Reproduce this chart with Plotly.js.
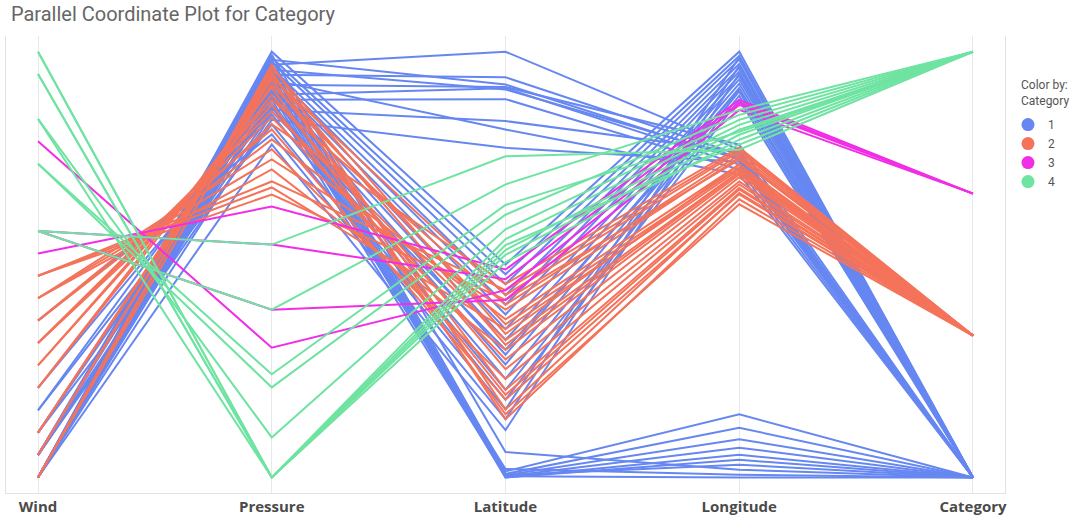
<!DOCTYPE html>
<html>
<head>
<meta charset="utf-8">
<script src="https://cdn.plot.ly/plotly-3.0.1.min.js"></script>
<style>html,body{margin:0;padding:0;background:#fff;}#chart{width:1075px;height:516px;}</style>
</head>
<body>
<div id="chart"></div>
<script>
// Dimensions (axes) of the parallel coordinate plot
const dimensions = ['Wind', 'Pressure', 'Latitude', 'Longitude', 'Category'];
const dimRanges = [[35, 130], [920, 1005], [10, 45], [-100, -40], [1, 4]];

// One entry per storm record
const wind = [
  // category 1
  35,35,40,35,45,40,35,50,35,40,
  35,35,35,40,35,40,45,35,50,35,40,55,35,45,70,35,40,
  35,35,35,40,35,40,35,45,35,40,
  // category 2
  80,80,80,75,75,75,70,70,65,65,65,60,60,55,55,45,45,40,40,35,35,35,
  // category 3
  110,85,90,90,
  // category 4
  130,130,125,125,115,115,105,105,90,90
];
const pressure = [
  1002.4,1000.4,1003.4,998.4,996.4,1001.4,995.4,993.4,999.4,991.4,
  1005.0,1003.8,1003.0,1001.8,1001.0,999.8,999.0,997.8,997.0,995.8,994.6,993.9,992.5,990.5,988.5,986.5,993.1,
  1004.4,1003.4,1002.4,1001.4,1000.4,999.4,998.4,997.4,996.4,995.4,
  976.5,977.9,979.1,981.5,983.5,985.5,987.5,989.5,990.5,991.9,993.1,994.4,995.4,996.4,997.8,998.4,999.4,1000.4,1001.0,1001.8,1002.4,999.8,
  945.9,974.1,953.5,966.5,
  920.0,920.0,920.0,920.0,920.0,928.0,938.0,940.6,953.5,966.5
];
const latitude = [
  45.0,42.9,42.3,42.1,42.0,41.9,41.1,39.3,38.6,37.1,
  27.5,26.7,25.9,25.0,24.2,23.4,22.2,21.3,20.1,19.3,18.1,17.2,16.4,15.6,14.8,13.9,20.5,
  12.1,10.5,10.3,10.2,10.1,10.0,10.0,10.2,10.7,10.1,
  24.6,22.2,25.4,20.5,23.8,18.1,23.0,16.4,25.9,19.7,21.3,16.8,24.2,18.9,15.2,22.6,17.2,20.9,14.8,21.8,15.6,25.0,
  25.4,27.1,24.6,26.3,
  27.7,28.3,28.7,29.1,29.6,30.4,31.6,32.4,34.1,36.4
];
const longitude = [
  -53.8,-54.5,-55.2,-53.1,-55.9,-54.9,-56.6,-54.1,-57.3,-55.5,
  -40.0,-40.6,-41.1,-41.7,-42.3,-42.8,-43.4,-43.9,-44.5,-45.1,-45.6,-46.2,-46.8,-40.8,-42.0,-43.1,-45.4,
  -98.9,-91.1,-93.0,-94.6,-95.8,-96.8,-97.5,-98.2,-99.6,-100.0,
  -55.2,-56.6,-53.8,-57.3,-54.9,-58.7,-55.9,-60.1,-53.5,-57.7,-56.9,-59.4,-54.5,-58.3,-61.5,-56.3,-59.2,-57.0,-60.8,-55.9,-59.9,-54.1,
  -47.5,-46.8,-48.2,-47.2,
  -52.4,-51.7,-51.0,-53.1,-50.3,-49.6,-48.9,-51.3,-48.2,-53.8
];
const category = [
  1,1,1,1,1,1,1,1,1,1,
  1,1,1,1,1,1,1,1,1,1,1,1,1,1,1,1,1,
  1,1,1,1,1,1,1,1,1,1,
  2,2,2,2,2,2,2,2,2,2,2,2,2,2,2,2,2,2,2,2,2,2,
  3,3,3,3,
  4,4,4,4,4,4,4,4,4,4
];

const categoryLevels = [1, 2, 3, 4];
const categoryColors = {1: '#6687f2', 2: '#f4735a', 3: '#f22de6', 4: '#6fe3a1'};
const drawOrder = [1, 2, 3, 4];

const columns = [wind, pressure, latitude, longitude, category];
function scaled(d, v) {
  const r = dimRanges[d];
  return (v - r[0]) / (r[1] - r[0]);
}

const traces = [];
drawOrder.forEach(function (c) {
  const xs = [], ys = [];
  for (let i = 0; i < category.length; i++) {
    if (category[i] !== c) continue;
    for (let d = 0; d < dimensions.length; d++) {
      xs.push(d);
      ys.push(scaled(d, columns[d][i]));
    }
    xs.push(null); ys.push(null);
  }
  traces.push({
    type: 'scatter', mode: 'lines', x: xs, y: ys,
    line: {color: categoryColors[c], width: 2},
    hoverinfo: 'skip', showlegend: false, connectgaps: false
  });
});
categoryLevels.forEach(function (c) {
  traces.push({
    type: 'scatter', mode: 'markers', x: [null], y: [null],
    name: String(c),
    marker: {color: categoryColors[c], size: 13, symbol: 'circle'},
    showlegend: true
  });
});

const layout = {
  width: 1075, height: 516,
  margin: {l: 6, r: 70, t: 36, b: 23},
  paper_bgcolor: '#fff', plot_bgcolor: '#fff',
  font: {family: 'Roboto, sans-serif', color: '#555'},
  title: {
    text: 'Parallel Coordinate Plot for Category',
    font: {family: 'Roboto, sans-serif', size: 20, color: '#666'},
    x: 0.0102, xref: 'container', xanchor: 'left',
    y: 0.972, yref: 'container', yanchor: 'middle'
  },
  xaxis: {
    range: [-0.137, 4.137],
    tickvals: [0, 1, 2, 3, 4], ticktext: dimensions,
    showgrid: true, gridcolor: '#e8e8ec', gridwidth: 1,
    zeroline: false, showline: true, linecolor: '#e3e3e7', linewidth: 1,
    ticks: '', ticklen: 0,
    tickfont: {family: '"Open Sans", sans-serif', size: 15, color: '#4a4a4a', weight: 'bold'},
    fixedrange: true
  },
  yaxis: {
    range: [-0.0364, 1.0369],
    showgrid: false, zeroline: false, showticklabels: false, ticks: '',
    showline: true, linecolor: '#e3e3e7', linewidth: 1, mirror: true,
    fixedrange: true
  },
  annotations: [{
    text: 'Color by:<br>Category', showarrow: false,
    xref: 'paper', yref: 'paper', x: 1.014, y: 0.913, xanchor: 'left', yanchor: 'top', align: 'left',
    font: {family: 'Roboto, sans-serif', size: 12, color: '#555'}
  }],
  legend: {
    x: 1.003, xanchor: 'left', y: 0.838, yanchor: 'top',
    font: {family: 'Roboto, sans-serif', size: 12, color: '#555'},
    tracegroupgap: 0, itemsizing: 'trace'
  },
  showlegend: true
};

Plotly.newPlot('chart', traces, layout, {displayModeBar: false, staticPlot: true});
</script>
</body>
</html>
